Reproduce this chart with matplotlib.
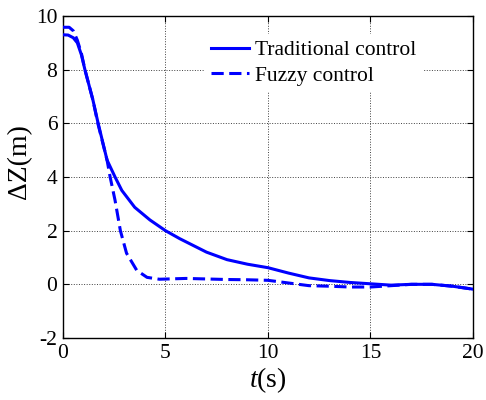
import matplotlib

matplotlib.use("Agg")
import matplotlib.pyplot as plt

# values
t_trad = [0, 0.25, 0.5, 0.7, 0.9, 1.07, 1.46, 1.7, 2.15, 2.54, 2.87, 3.5, 4.24, 5, 5.7,
          7, 8, 9, 10, 11, 12, 13, 14, 15, 16, 17, 18, 19, 20]
trad = [9.3, 9.29, 9.19, 9.0, 8.55, 8.0, 6.87, 6.05, 4.63, 4.0, 3.5, 2.87, 2.4, 2.0, 1.7,
        1.2, 0.92, 0.75, 0.62, 0.42, 0.24, 0.14, 0.07, 0.02, -0.03, 0.0, 0.0, -0.07, -0.18]

t_fuzzy = [0, 0.3, 0.5, 0.7, 0.9, 1.07, 1.46, 1.7, 2.15, 2.3, 2.54, 2.8, 3.1, 3.6, 4.1,
           4.7, 6, 7, 8, 9, 10, 11, 12, 13, 14, 15, 16, 17, 18, 19, 20]
fuzzy = [9.58, 9.58, 9.45, 9.1, 8.6, 8.0, 6.87, 6.0, 4.63, 4.0, 3.13, 2.0, 1.16, 0.52, 0.26,
         0.19, 0.22, 0.2, 0.18, 0.17, 0.15, 0.05, -0.05, -0.07, -0.1, -0.1, -0.05, 0.0, 0.0,
         -0.07, -0.18]

labels = ["Traditional control", "Fuzzy control"]
x_ticks = [0, 5, 10, 15, 20]
y_ticks = [-2, 0, 2, 4, 6, 8, 10]

BLUE = "#0000ff"
plt.rcParams.update({
    "font.family": ["Liberation Serif", "DejaVu Serif"],
    "mathtext.fontset": "custom",
    "mathtext.it": "Liberation Serif:italic",
    "mathtext.rm": "Liberation Serif",
    "axes.unicode_minus": False,
})

fig = plt.figure(figsize=(4.86, 4.0), dpi=100)
ax = fig.add_axes([0.1296, 0.155, 0.8436, 0.805])

ax.plot(t_trad, trad, color=BLUE, lw=2.2, label=labels[0], zorder=3)
ax.plot(t_fuzzy, fuzzy, color=BLUE, lw=2.2, ls=(0, (4, 1.8)), label=labels[1], zorder=3)

ax.set_xlim(0, 20)
ax.set_ylim(-2, 10)
ax.set_xticks(x_ticks)
ax.set_yticks(y_ticks)
ax.tick_params(direction="in", top=True, right=True, length=4, width=0.8,
               labelsize=15.5, pad=4)
ax.grid(True, ls=":", color="0.25", lw=0.7)
for s in ax.spines.values():
    s.set_linewidth(1.0)

ax.set_xlabel("$t$(s)", fontsize=20, labelpad=2)
ax.set_ylabel("ΔZ(m)", fontsize=20)
ax.yaxis.set_label_coords(-0.075, 0.547)

leg = ax.legend(loc="upper left", bbox_to_anchor=(0.345, 0.945), fontsize=15.5,
                frameon=True, fancybox=False, framealpha=1, edgecolor="none",
                handlelength=1.75, handletextpad=0.3, labelspacing=0.25,
                borderpad=0.3, borderaxespad=0)

fig.savefig("out.png", dpi=100, facecolor="white")
